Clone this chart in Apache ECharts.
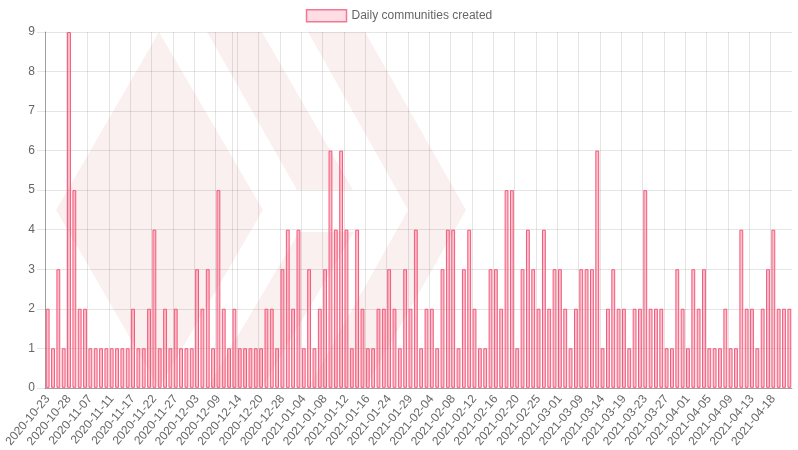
<!DOCTYPE html>
<html>
<head>
<meta charset="utf-8">
<script src="https://cdn.jsdelivr.net/npm/echarts@6/dist/echarts.min.js"></script>
<style>
html, body { margin: 0; padding: 0; background: #fff; }
#chart { width: 798px; height: 450px; }
</style>
</head>
<body>
<div id="chart"></div>
<script>
var seriesName = 'Daily communities created';

// one label every 4 days in the list, the days in between can't be read
var tickLabels = [
    '2020-10-23', '2020-10-28', '2020-11-07', '2020-11-11', '2020-11-17', '2020-11-22', '2020-11-27',
    '2020-12-03', '2020-12-09', '2020-12-14', '2020-12-20', '2020-12-28', '2021-01-04', '2021-01-08',
    '2021-01-12', '2021-01-16', '2021-01-24', '2021-01-29', '2021-02-04', '2021-02-08', '2021-02-12',
    '2021-02-16', '2021-02-20', '2021-02-25', '2021-03-01', '2021-03-09', '2021-03-14', '2021-03-19',
    '2021-03-23', '2021-03-27', '2021-04-01', '2021-04-05', '2021-04-09', '2021-04-13', '2021-04-18'
];

var communities = [
    2, 1, 3, 1, 9, 5, 2, 2, 1, 1, 1, 1, 1, 1, 1, 1, 2, 1, 1, 2,
    4, 1, 2, 1, 2, 1, 1, 1, 3, 2, 3, 1, 5, 2, 1, 2, 1, 1, 1, 1,
    1, 2, 2, 1, 3, 4, 2, 4, 1, 3, 1, 2, 3, 6, 4, 6, 4, 1, 4, 2,
    1, 1, 2, 2, 3, 2, 1, 3, 2, 4, 1, 2, 2, 1, 3, 4, 4, 1, 3, 4,
    2, 1, 1, 3, 3, 2, 5, 5, 1, 3, 4, 3, 2, 4, 2, 3, 3, 2, 1, 2,
    3, 3, 3, 6, 1, 2, 3, 2, 2, 1, 2, 2, 5, 2, 2, 2, 1, 1, 3, 2,
    1, 3, 2, 3, 1, 1, 1, 2, 1, 1, 4, 2, 2, 1, 2, 3, 4, 2, 2, 2
];

var categories = communities.map(function (v, i) {
    return i % 4 === 0 ? tickLabels[i / 4] : '';
});

// the reference has one stray grid line without a label
var extraGridIndex = 35;

var textColor = '#666';
var gridColor = 'rgba(0,0,0,0.1)';
var axisColor = 'rgba(0,0,0,0.3)';
var logoColor = '#fbf0f0';

function logoShape(points) {
    return {
        type: 'polygon',
        z: -10,
        silent: true,
        shape: { points: points },
        style: { fill: logoColor }
    };
}

var chart = echarts.init(document.getElementById('chart'), null, { renderer: 'canvas' });

chart.setOption({
    animation: false,
    textStyle: { fontFamily: '"Liberation Sans", Arial, sans-serif' },
    graphic: {
        elements: [
            logoShape([[159, 32], [263, 210], [159, 388], [56, 210]]),
            logoShape([[207, 32], [262, 32], [353, 190], [297, 190]]),
            logoShape([[299, 232], [354, 232], [262, 388], [207, 388]]),
            logoShape([[308, 32], [365, 32], [466, 210], [365, 388], [308, 388], [408, 210]]),
            // hides the closing tick echarts adds after the last band
            {
                type: 'rect',
                z: 100,
                silent: true,
                shape: { x: 790, y: 389.5, width: 4, height: 8 },
                style: { fill: '#fff' }
            }
        ]
    },
    legend: {
        top: 4,
        left: 'center',
        itemWidth: 40,
        itemHeight: 12,
        itemGap: 6,
        textStyle: { color: textColor, fontSize: 12 },
        data: [{
            name: seriesName,
            icon: 'rect',
            itemStyle: { color: 'rgba(255,99,132,0.22)', borderColor: 'rgba(240,100,130,0.85)', borderWidth: 1.5 }
        }]
    },
    grid: { left: 45, right: 6, top: 32, bottom: 62, containLabel: false },
    xAxis: {
        type: 'category',
        data: categories,
        boundaryGap: true,
        axisLine: { lineStyle: { color: axisColor, width: 1 } },
        axisTick: {
            length: 8,
            lineStyle: { color: gridColor },
            interval: function (i) { return i % 4 === 0 || i === extraGridIndex; }
        },
        axisLabel: {
            color: textColor,
            fontSize: 12,
            rotate: 50,
            margin: 9,
            hideOverlap: false,
            interval: function (i) { return i % 4 === 0; }
        },
        splitLine: {
            show: true,
            showMaxLine: false,
            lineStyle: { color: gridColor, width: 1 },
            interval: function (i) { return i % 4 === 0 || i === extraGridIndex; }
        }
    },
    yAxis: {
        type: 'value',
        min: 0,
        max: 9,
        interval: 1,
        axisLine: { show: true, lineStyle: { color: axisColor, width: 1 } },
        axisTick: { show: true, length: 8, lineStyle: { color: gridColor } },
        axisLabel: { color: textColor, fontSize: 12, margin: 10 },
        splitLine: { show: true, lineStyle: { color: gridColor, width: 1 } }
    },
    series: [{
        name: seriesName,
        type: 'bar',
        data: communities,
        barWidth: '72%',
        itemStyle: {
            color: 'rgba(255,99,132,0.4)',
            borderColor: 'rgb(242,90,122)',
            borderWidth: 1
        }
    }]
});
</script>
</body>
</html>
